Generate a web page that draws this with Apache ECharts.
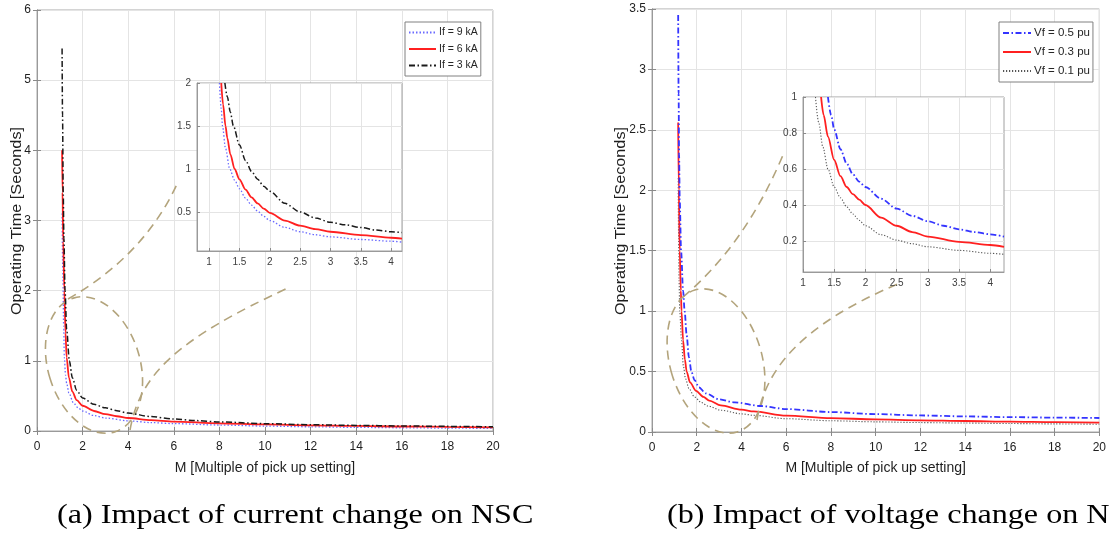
<!DOCTYPE html>
<html><head><meta charset="utf-8">
<script src="https://cdn.jsdelivr.net/npm/echarts@6/dist/echarts.min.js"></script>
<style>html,body{margin:0;padding:0;background:#fff}#c{width:1109px;height:538px}</style>
</head><body><div id="c"></div>
<script>
// ---------- data ----------
// (a) main chart: M vs operating time
const if9Main = [[1.1,3.1],[1.13,2.3],[1.17,1.5],[1.2,1.05],[1.25,0.8],[1.3,0.68],[1.4,0.54],[1.6,0.4],[1.8,0.33],[2,0.285],[2.5,0.22],[3,0.185],[4,0.145],[5,0.12],[6,0.105],[8,0.085],[10,0.07],[12,0.06],[14,0.052],[16,0.046],[18,0.041],[20,0.037]];
const if6Main = [[1.1,4.0],[1.12,3.4],[1.15,2.7],[1.2,2.0],[1.25,1.4],[1.3,1.05],[1.4,0.76],[1.55,0.56],[1.74,0.44],[2,0.36],[2.5,0.285],[3,0.24],[3.5,0.21],[4,0.185],[5,0.155],[6,0.135],[8,0.11],[10,0.093],[12,0.081],[14,0.072],[16,0.064],[18,0.058],[20,0.052]];
const if3Main = [[1.1,5.45],[1.12,4.5],[1.15,3.4],[1.18,2.75],[1.23,2.0],[1.3,1.45],[1.42,1.0],[1.55,0.76],[1.74,0.58],[2,0.47],[2.5,0.38],[3,0.33],[3.5,0.29],[4,0.255],[5,0.205],[6,0.17],[7,0.148],[8,0.13],[10,0.105],[12,0.09],[14,0.08],[16,0.072],[18,0.066],[20,0.06]];
// (a) inset
const if9Zoom = [[1.17,2.0],[1.2,1.7],[1.22,1.5],[1.27,1.24],[1.34,1.0],[1.42,0.87],[1.5,0.77],[1.6,0.66],[1.7,0.58],[1.8,0.51],[1.9,0.45],[2,0.4],[2.25,0.32],[2.5,0.27],[2.75,0.235],[3,0.21],[3.5,0.18],[4,0.16],[4.18,0.15]];
const if6Zoom = [[1.2,2.0],[1.23,1.75],[1.27,1.5],[1.3,1.36],[1.35,1.17],[1.42,1.0],[1.5,0.88],[1.6,0.76],[1.7,0.67],[1.8,0.6],[1.9,0.54],[2,0.49],[2.25,0.4],[2.5,0.34],[2.75,0.3],[3,0.27],[3.5,0.23],[4,0.2],[4.18,0.19]];
const if3Zoom = [[1.26,2.0],[1.3,1.84],[1.35,1.66],[1.4,1.5],[1.5,1.28],[1.6,1.1],[1.7,0.97],[1.8,0.88],[1.9,0.8],[2,0.74],[2.25,0.6],[2.5,0.5],[2.75,0.43],[3,0.38],[3.25,0.35],[3.5,0.32],[3.75,0.29],[4,0.27],[4.18,0.26]];
// (b) main chart
const vf5Main = [[1.17,3.45],[1.19,2.8],[1.21,2.3],[1.24,1.92],[1.3,1.5],[1.39,1.17],[1.46,1.0],[1.55,0.8],[1.65,0.62],[1.76,0.5],[1.9,0.43],[2.1,0.37],[2.4,0.32],[3,0.27],[3.7,0.245],[4.87,0.215],[6,0.19],[8,0.165],[10,0.148],[12,0.137],[14,0.129],[16,0.123],[18,0.119],[20,0.116]];
const vf3Main = [[1.17,2.56],[1.2,2.0],[1.24,1.5],[1.29,1.17],[1.32,1.0],[1.39,0.76],[1.47,0.6],[1.55,0.5],[1.7,0.41],[1.97,0.34],[2.3,0.29],[2.56,0.26],[3.08,0.22],[4,0.185],[4.55,0.17],[6,0.135],[8,0.115],[10,0.104],[12,0.097],[14,0.091],[16,0.086],[18,0.082],[20,0.078]];
const vf1Main = [[1.17,2.1],[1.19,1.6],[1.21,1.25],[1.24,1.0],[1.32,0.76],[1.4,0.55],[1.5,0.44],[1.65,0.36],[1.9,0.29],[2.2,0.245],[2.5,0.215],[3.08,0.18],[4,0.15],[4.55,0.138],[6,0.11],[8,0.093],[10,0.084],[12,0.078],[14,0.074],[16,0.07],[18,0.067],[20,0.064]];
// (b) inset
const vf5Zoom = [[1.4,1.0],[1.45,0.9],[1.5,0.82],[1.6,0.71],[1.7,0.63],[1.8,0.57],[1.9,0.53],[2,0.5],[2.25,0.435],[2.5,0.38],[2.75,0.34],[3,0.31],[3.25,0.285],[3.5,0.265],[3.75,0.25],[4,0.237],[4.22,0.225]];
const vf3Zoom = [[1.29,1.0],[1.33,0.9],[1.4,0.78],[1.5,0.65],[1.6,0.56],[1.7,0.5],[1.8,0.46],[1.9,0.43],[2,0.4],[2.25,0.33],[2.5,0.285],[2.75,0.25],[3,0.225],[3.5,0.195],[4,0.178],[4.22,0.167]];
const vf1Zoom = [[1.2,1.0],[1.25,0.86],[1.32,0.72],[1.4,0.6],[1.5,0.5],[1.6,0.44],[1.7,0.39],[1.8,0.35],[1.9,0.315],[2,0.285],[2.25,0.235],[2.5,0.205],[2.75,0.185],[3,0.168],[3.5,0.148],[4,0.132],[4.22,0.126]];
// tick values
const insetXTicks = [1,1.5,2,2.5,3,3.5,4];
const insetAYTicks = [0.5,1,1.5,2];
const insetBYTicks = [0.2,0.4,0.6,0.8,1];
const legendA = ['If = 9 kA','If = 6 kA','If = 3 kA'];
const legendB = ['Vf = 0.5 pu','Vf = 0.3 pu','Vf = 0.1 pu'];
const xName = 'M [Multiple of pick up setting]';
const yName = 'Operating Time [Seconds]';
const captionA = '(a) Impact of current change on NSC';
const captionB = '(b) Impact of voltage change on NSC';

// ---------- styles ----------
const FONT = 'Liberation Sans, Arial, sans-serif';
const gridLine = {show:true, lineStyle:{color:'#e4e4e4', width:1}};
const axLine = {show:true, lineStyle:{color:'#9a9a9a', width:1}};
const tick = {show:true, inside:true, length:4, lineStyle:{color:'#8a8a8a'}};
const mainXLabel = {color:'#1e1e1e', fontSize:12, fontFamily:FONT, margin:10};
const mainYLabel = {color:'#1e1e1e', fontSize:12, fontFamily:FONT, margin:6};
const insetLabel = {color:'#404040', fontSize:10, fontFamily:FONT, margin:6};
const nameStyleX = {color:'#1e1e1e', fontSize:14, fontFamily:FONT};
const stBlueDot = {color:'#6a6aff', width:1.3, type:[1.5,2]};
const stRed = {color:'#ff2020', width:1.8, type:'solid'};
const stBlackDD = {color:'#1a1a1a', width:1.5, type:[6,2.5,1.5,2.5]};
const stBlueDD = {color:'#3434ff', width:1.8, type:[6,2.5,1.5,2.5]};
const stBlackDot = {color:'#555', width:1.1, type:[1.2,1.8]};
const anno = {stroke:'#b3a47c', lineWidth:1.6, lineDash:[9,6], fill:null};
const yNameStyle = {text:yName, font:'14.5px "Liberation Sans", Arial, sans-serif', fill:'#1e1e1e', align:'center', verticalAlign:'middle'};
const capFont = '27px "Liberation Serif", serif';

function ser(name, data, ai, st, z){
  return {type:'line', name, data, xAxisIndex:ai, yAxisIndex:ai, symbol:'none', showSymbol:false,
    smooth:0.3, smoothMonotone:'x', clip:true, lineStyle:st, itemStyle:{color:st.color}, z, animation:false};
}
function mainX(gi, gap){return {type:'value', gridIndex:gi, min:0, max:20, interval:2, axisLine:axLine, axisTick:tick, splitLine:gridLine,
  axisLabel:mainXLabel, name:xName, nameLocation:'middle', nameGap:gap, nameTextStyle:nameStyleX, z:1};}
function topX(gi){return {type:'value', gridIndex:gi, min:0, max:20, interval:2, position:'top', axisLine:axLine, axisTick:tick, axisLabel:{show:false}, splitLine:{show:false}, z:1};}
function insetX(gi, min, max){return {type:'value', gridIndex:gi, min, max, axisLine:axLine,
  axisTick:Object.assign({customValues:insetXTicks}, tick, {length:3}), splitLine:gridLine,
  axisLabel:Object.assign({customValues:insetXTicks}, insetLabel), z:6};}
const legendCommon = {orient:'vertical', padding:[5,3,5,3], borderColor:'#808080', borderWidth:1, backgroundColor:'#fff',
  itemStyle:{color:'rgba(0,0,0,0)', borderColor:'rgba(0,0,0,0)', borderWidth:0, opacity:0}, z:20, selectedMode:false};

const option = {
  animation:false,
  backgroundColor:'#fff',
  grid:[
    {left:37, top:10, width:456, height:421, show:true, borderColor:'#a8a8a8', borderWidth:1, backgroundColor:'#fff', z:0},
    {left:197, top:83, width:205, height:168, show:true, borderColor:'#a0a0a0', borderWidth:1, backgroundColor:'#fff', z:5},
    {left:652, top:9, width:450, height:423, show:true, borderColor:'#a8a8a8', borderWidth:1, backgroundColor:'#fff', z:0},
    {left:803, top:97, width:201, height:175, show:true, borderColor:'#a0a0a0', borderWidth:1, backgroundColor:'#fff', z:5}
  ],
  xAxis:[ mainX(0,30), insetX(1,0.8,4.18), mainX(2,29), insetX(3,1,4.22), topX(0), topX(2) ],
  yAxis:[
    {type:'value', gridIndex:0, min:0, max:6, interval:1, axisLine:axLine, axisTick:tick, splitLine:gridLine, axisLabel:mainYLabel, z:1},
    {type:'value', gridIndex:1, min:0.046, max:2, axisLine:axLine,
      axisTick:Object.assign({customValues:insetAYTicks}, tick, {length:3}), splitLine:gridLine,
      axisLabel:Object.assign({customValues:insetAYTicks}, insetLabel), z:6},
    {type:'value', gridIndex:2, min:0, max:3.5, interval:0.5, axisLine:axLine, axisTick:tick, splitLine:gridLine, axisLabel:mainYLabel, z:1},
    {type:'value', gridIndex:3, min:0.028, max:1, axisLine:axLine,
      axisTick:Object.assign({customValues:insetBYTicks}, tick, {length:3}), splitLine:gridLine,
      axisLabel:Object.assign({customValues:insetBYTicks}, insetLabel), z:6},
    {type:'value', gridIndex:0, min:0, max:6, interval:1, position:'right', axisLine:axLine, axisTick:tick, axisLabel:{show:false}, splitLine:{show:false}, z:1},
    {type:'value', gridIndex:2, min:0, max:3.5, interval:0.5, position:'right', axisLine:axLine, axisTick:tick, axisLabel:{show:false}, splitLine:{show:false}, z:1}
  ],
  legend:[
    Object.assign({data:legendA, left:405, top:22, itemWidth:27, itemHeight:10, itemGap:5.5,
      textStyle:{fontSize:10.5, color:'#262626', fontFamily:FONT, padding:[0,0,0,-2]}}, legendCommon),
    Object.assign({data:legendB, left:999, top:22, itemWidth:28, itemHeight:11, itemGap:7,
      textStyle:{fontSize:11.5, color:'#262626', fontFamily:FONT, padding:[0,0,0,-2]}}, legendCommon)
  ],
  series:[
    ser(legendA[0], if9Main, 0, stBlueDot, 2),
    ser(legendA[1], if6Main, 0, stRed, 3),
    ser(legendA[2], if3Main, 0, stBlackDD, 4),
    ser(legendA[0], if9Zoom, 1, stBlueDot, 8),
    ser(legendA[1], if6Zoom, 1, stRed, 9),
    ser(legendA[2], if3Zoom, 1, stBlackDD, 10),
    ser(legendB[2], vf1Main, 2, stBlackDot, 2),
    ser(legendB[1], vf3Main, 2, stRed, 3),
    ser(legendB[0], vf5Main, 2, stBlueDD, 4),
    ser(legendB[2], vf1Zoom, 3, stBlackDot, 8),
    ser(legendB[1], vf3Zoom, 3, stRed, 9),
    ser(legendB[0], vf5Zoom, 3, stBlueDD, 10)
  ],
  graphic:[
    {type:'ellipse', shape:{cx:0, cy:0, rx:46, ry:70}, x:94, y:365, rotation:0.3, style:anno, z:4, silent:true},
    {type:'bezierCurve', shape:{x1:68, y1:299, cpx1:145, cpy1:255, x2:178, y2:182}, style:anno, z:4, silent:true},
    {type:'bezierCurve', shape:{x1:130, y1:430, cpx1:140, cpy1:375, cpx2:175, cpy2:340, x2:290, y2:287}, style:anno, z:4, silent:true},
    {type:'ellipse', shape:{cx:0, cy:0, rx:46, ry:74}, x:716, y:361, rotation:0.29, style:anno, z:4, silent:true},
    {type:'bezierCurve', shape:{x1:683, y1:297, cpx1:745, cpy1:245, x2:783, y2:155}, style:anno, z:4, silent:true},
    {type:'bezierCurve', shape:{x1:757, y1:420, cpx1:765, cpy1:370, cpx2:800, cpy2:325, x2:900, y2:283}, style:anno, z:4, silent:true},
    {type:'text', x:17, y:221, rotation:Math.PI/2, scaleX:1.12, style:yNameStyle, z:4, silent:true},
    {type:'text', x:621, y:221, rotation:Math.PI/2, scaleX:1.12, style:yNameStyle, z:4, silent:true},
    {type:'text', x:57, y:502, scaleX:1.19, style:{text:captionA, font:capFont, fill:'#000'}, z:4},
    {type:'text', x:667, y:502, scaleX:1.19, style:{text:captionB, font:capFont, fill:'#000'}, z:4}
  ]
};
const chart = echarts.init(document.getElementById('c'), null, {renderer:'canvas'});
chart.setOption(option);
</script></body></html>
